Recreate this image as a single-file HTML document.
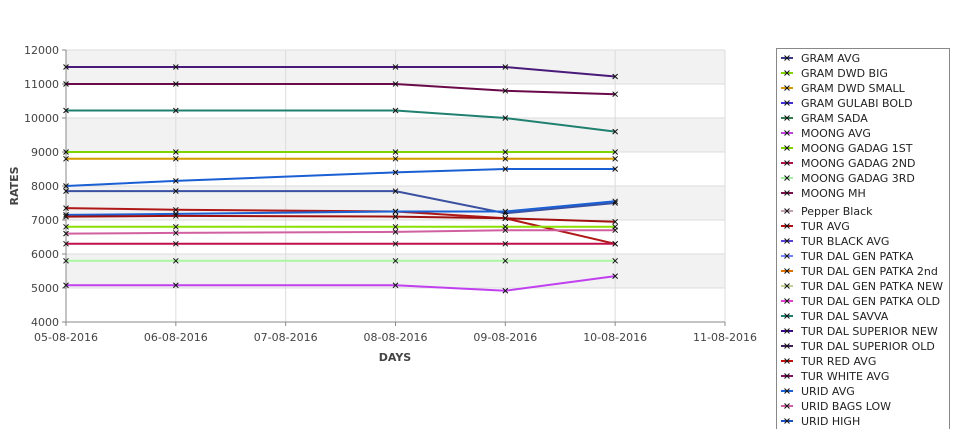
<!DOCTYPE html>
<html><head><meta charset="utf-8"><style>
body{margin:0;background:#fff;font-family:"Liberation Sans","DejaVu Sans",sans-serif;}
svg text{font-family:"DejaVu Sans","Liberation Sans",sans-serif;}
</style></head><body>
<svg id="c" width="975" height="429" xmlns="http://www.w3.org/2000/svg"></svg>
<script>
const categories=["05-08-2016","06-08-2016","07-08-2016","08-08-2016","09-08-2016","10-08-2016","11-08-2016"];
const yTicks=[4000,5000,6000,7000,8000,9000,10000,11000,12000];
const legendNames=["GRAM AVG","GRAM DWD BIG","GRAM DWD SMALL","GRAM GULABI BOLD","GRAM SADA","MOONG AVG","MOONG GADAG 1ST","MOONG GADAG 2ND","MOONG GADAG 3RD","MOONG MH","Pepper Black","TUR AVG","TUR BLACK AVG","TUR DAL GEN PATKA","TUR DAL GEN PATKA 2nd","TUR DAL GEN PATKA NEW","TUR DAL GEN PATKA OLD","TUR DAL SAVVA","TUR DAL SUPERIOR NEW","TUR DAL SUPERIOR OLD","TUR RED AVG","TUR WHITE AVG","URID AVG","URID BAGS LOW","URID HIGH"];
const legendColors=["#3a3a8c","#7fd400","#d49a00","#3f2fd4","#2f7f4f","#c040e0","#7fd400","#b0104a","#a0f0a0","#7a104a","#c0a0b0","#b01010","#5a3fd4","#7080ff","#e07000","#c0d090","#e040d0","#208070","#3a0a8a","#40205a","#c01010","#801060","#1a5fd4","#d060a0","#1a50c0"];
const seriesDays=[0,1,3,4,5];
const s1=[11500,11500,11500,11500,11220];
const s2=[11000,11000,11000,10800,10700];
const s3=[10220,10220,10220,10000,9600];
const s4=[9000,9000,9000,9000,9000];
const s5=[8800,8800,8800,8800,8800];
const s6=[8000,8150,8400,8500,8500];
const s7=[7850,7850,7850,7200,7500];
const s8=[7350,7300,7250,7050,6300];
const s9=[7150,7180,7250,7250,7550];
const s10=[7100,7120,7100,7050,6950];
const s11=[6800,6800,6800,6800,6800];
const s12=[6600,6620,6650,6700,6700];
const s13=[6300,6300,6300,6300,6300];
const s14=[5800,5800,5800,5800,5800];
const s15=[5080,5080,5080,4920,5350];
const seriesList=[s1,s2,s3,s4,s5,s6,s7,s8,s9,s10,s11,s12,s13,s14,s15];
const seriesColors=["#4a1a7a","#6a0a4a","#208070","#7fd400","#d49a00","#1a5fd4","#3a50a0","#b01818","#1a5fd4","#a01010","#8ae000","#d060a0","#c0104a","#a8f8a0","#c040f0"];
const ns="http://www.w3.org/2000/svg",svg=document.getElementById("c");
const X0=66,X1=725,Y0=322,Y1=50;
const xs=i=>X0+i*(X1-X0)/(categories.length-1);
const ys=v=>Y0-(v-4000)*(Y0-Y1)/8000;
function mk(t,a,p){const e=document.createElementNS(ns,t);for(const k in a)e.setAttribute(k,a[k]);(p||svg).appendChild(e);return e;}
for(let i=0;i<yTicks.length-1;i++){
 const b=mk("rect",{x:X0,y:ys(yTicks[i+1]),width:X1-X0,height:ys(yTicks[i])-ys(yTicks[i+1]),fill:i%2?"#f2f2f2":"#ffffff"});
 
 
}
yTicks.forEach(v=>{
 mk("line",{x1:X0,x2:X1,y1:ys(v),y2:ys(v),stroke:"#dcdcdc"});
 mk("line",{x1:X0-4,x2:X0,y1:ys(v),y2:ys(v),stroke:"#888"});
 const t=mk("text",{x:X0-7,y:ys(v)+4,"text-anchor":"end","font-size":11,fill:"#444"});t.textContent=v;
 
 
});
categories.forEach((c,i)=>{
 mk("line",{x1:xs(i),x2:xs(i),y1:Y1,y2:Y0,stroke:"#dcdcdc"});
 mk("line",{x1:xs(i),x2:xs(i),y1:Y0,y2:Y0+4,stroke:"#888"});
 const t=mk("text",{x:xs(i),y:Y0+19,"text-anchor":"middle","font-size":11,fill:"#444"});t.textContent=c;
 
 
});
mk("line",{x1:X0,x2:X0,y1:Y1,y2:Y0,stroke:"#888"});
mk("line",{x1:X0,x2:X1,y1:Y0,y2:Y0,stroke:"#888"});
let yt=mk("text",{x:18,y:186,"text-anchor":"middle","font-size":11,"font-weight":"bold",fill:"#444",transform:"rotate(-90 18 186)"});yt.textContent="RATES";


let xt=mk("text",{x:395,y:361,"text-anchor":"middle","font-size":11,"font-weight":"bold",fill:"#444"});xt.textContent="DAYS";


function cross(x,y,p){mk("path",{d:`M${x-2.5} ${y-2.5}L${x+2.5} ${y+2.5}M${x-2.5} ${y+2.5}L${x+2.5} ${y-2.5}`,stroke:"#111","stroke-width":1},p);}
seriesList.forEach((s,k)=>{
 const g=mk("g",{});
 
 
 const pts=s.map((v,i)=>xs(seriesDays[i])+","+ys(v)).join(" ");
 mk("polyline",{points:pts,fill:"none",stroke:seriesColors[k],"stroke-width":2},g);
 s.forEach((v,i)=>cross(xs(seriesDays[i]),ys(v),g));
});
const lg=mk("g",{});


mk("rect",{x:776.5,y:48.5,width:173,height:390,fill:"#fff",stroke:"#888"},lg);
legendNames.forEach((n,i)=>{
 const y=58+i*15+(i>=10?3:0);
 const g=mk("g",{},lg);
 
 
 mk("line",{x1:781,x2:793,y1:y,y2:y,stroke:legendColors[i],"stroke-width":2},g);
 cross(787,y,g);
 const t=mk("text",{x:801,y:y+4,"font-size":11,fill:"#222"},g);t.textContent=n;
});
</script>
</body></html>
